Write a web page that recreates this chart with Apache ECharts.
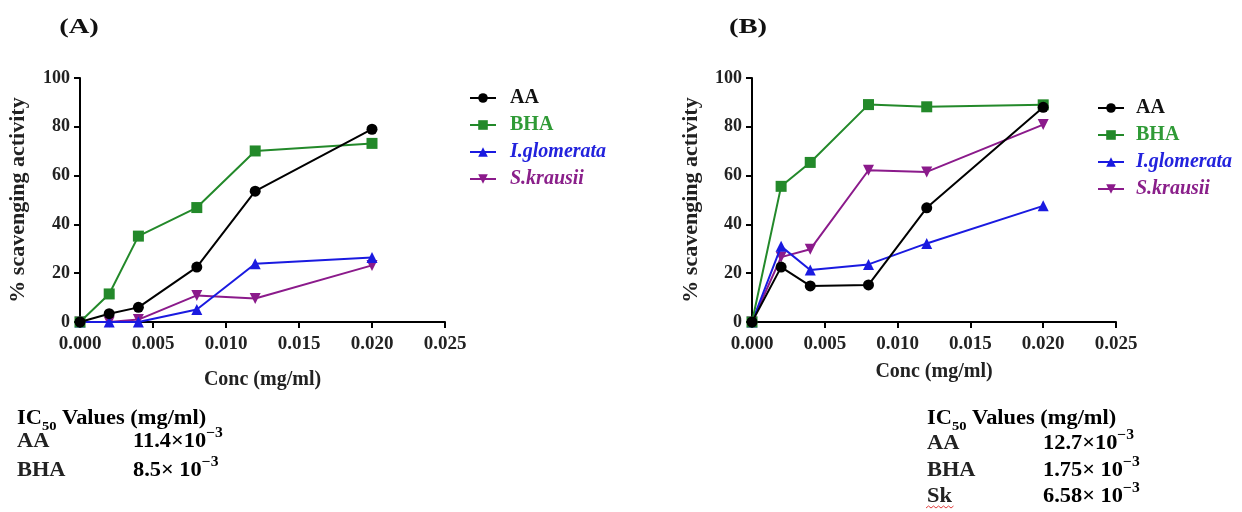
<!DOCTYPE html>
<html>
<head>
<meta charset="utf-8">
<script src="https://cdn.jsdelivr.net/npm/echarts@6/dist/echarts.min.js"></script>
<style>
html,body{margin:0;padding:0;background:#fff;}
#chart{width:1242px;height:512px;}
</style>
</head>
<body>
<div id="chart"></div>
<script>
// ---- data ----
var conc = [0, 0.002, 0.004, 0.008, 0.012, 0.020];
var seriesNames = ['AA', 'BHA', 'I.glomerata', 'S.krausii'];
// Panel A
var A_AA  = [0, 3.4, 6.0, 22.5, 53.6, 79.0];
var A_BHA = [0, 11.5, 35.2, 46.9, 70.1, 73.2];
var A_IG  = [0, 0, 0, 5.1, 23.9, 26.4];
var A_SK  = [0, 0, 1.0, 10.9, 9.6, 23.2];
// Panel B
var B_AA  = [0, 22.5, 14.8, 15.2, 46.8, 88.0];
var B_BHA = [0, 55.6, 65.4, 89.1, 88.2, 89.0];
var B_IG  = [0, 31.0, 21.3, 23.6, 32.2, 47.6];
var B_SK  = [0, 26.6, 29.8, 62.2, 61.5, 80.9];
// axes
var xMin = 0, xMax = 0.025, xStep = 0.005;
var yMin = 0, yMax = 100, yStep = 20;
var panelLabels = ['(A)', '(B)'];
var xTitle = 'Conc (mg/ml)';
var yTitle = '% scavenging activity';
// IC50 tables
var icA_names = ['AA', 'BHA'];
var icA_vals  = ['11.4×10', '8.5× 10'];
var icB_names = ['AA', 'BHA', 'Sk'];
var icB_vals  = ['12.7×10', '1.75× 10', '6.58× 10'];

// ---- styling ----
var FONT = '"Liberation Serif","Times New Roman",serif';
var colors = {'AA':'#000000','BHA':'#23892a','I.glomerata':'#1a1ae0','S.krausii':'#8b1a8b'};
var textColors = {'AA':'#111111','BHA':'#2f9a36','I.glomerata':'#2222dd','S.krausii':'#8a1f8a'};
var symbols = {'AA':'circle','BHA':'rect','I.glomerata':'triangle','S.krausii':'path://M0,0 L10,0 L5,9 Z'};
var sizes = {'AA':11,'BHA':11,'I.glomerata':11,'S.krausii':11};
var zs = {'AA':5,'BHA':4,'I.glomerata':3,'S.krausii':2};

function pairs(ys){ return conc.map(function(x,i){ return [x, ys[i]]; }); }

function makeSeries(name, ys, idx){
  return {
    name: name, type: 'line', xAxisIndex: idx, yAxisIndex: idx,
    data: pairs(ys), symbol: symbols[name], symbolSize: sizes[name],
    z: zs[name],
    lineStyle: {color: colors[name], width: 2},
    itemStyle: {color: colors[name]},
    emphasis: {disabled: true},
    animation: false
  };
}

function xAxis(idx, gap){
  return {
    type: 'value', gridIndex: idx, min: xMin, max: xMax, interval: xStep,
    name: xTitle, nameLocation: 'middle', nameGap: gap,
    nameTextStyle: {fontFamily: FONT, fontWeight: 'bold', fontSize: 20, color: '#222'},
    axisLine: {show: true, onZero: false, lineStyle: {color: '#000', width: 2}},
    axisTick: {show: true, inside: false, length: 6, lineStyle: {color: '#000', width: 2}},
    axisLabel: {fontFamily: FONT, fontWeight: 'bold', fontSize: 19, color: '#222', margin: 13,
      formatter: function(v){ return v.toFixed(3); }},
    splitLine: {show: false}
  };
}
function yAxis(idx, gap){
  return {
    type: 'value', gridIndex: idx, min: yMin, max: yMax, interval: yStep,
    name: yTitle, nameLocation: 'middle', nameGap: gap, nameRotate: 90,
    nameTextStyle: {fontFamily: FONT, fontWeight: 'bold', fontSize: 22, color: '#222'},
    axisLine: {show: true, onZero: false, lineStyle: {color: '#000', width: 2}},
    axisTick: {show: true, inside: false, length: 6, lineStyle: {color: '#000', width: 2}},
    axisLabel: {fontFamily: FONT, fontWeight: 'bold', fontSize: 18, color: '#222', margin: 10},
    splitLine: {show: false}
  };
}
function legend(left, top, pad){
  return {
    left: left, top: top, orient: 'vertical', itemWidth: 26, itemHeight: 12, itemGap: 7,
    selectedMode: false,
    data: seriesNames.map(function(n){
      return {name: n, textStyle: {color: textColors[n], fontStyle: (n==='AA'||n==='BHA') ? 'normal' : 'italic'}};
    }),
    textStyle: {fontFamily: FONT, fontWeight: 'bold', fontSize: 20, lineHeight: 20, padding: [0,0,0,pad]}
  };
}

var rich = {
  b: {fontFamily: FONT, fontWeight: 'bold', fontSize: 20, color: '#222', padding: [0,0,5,0], verticalAlign: 'top'},
  sub: {fontFamily: FONT, fontWeight: 'bold', fontSize: 13, color: '#222', verticalAlign: 'bottom'},
  sup: {fontFamily: FONT, fontWeight: 'bold', fontSize: 14, color: '#222', verticalAlign: 'top'},
  v: {fontFamily: FONT, fontWeight: 'bold', fontSize: 20, color: '#222', padding: [6,0,0,0], verticalAlign: 'bottom'}
};
var SX = 1.12;

function icTable(x, valX, y0, steps, names, vals){
  var els = [];
  els.push({type: 'text', x: x, y: y0 + 2, scaleX: SX, style: {text: '{b|IC}{sub|50}{b| Values (mg/ml)}', rich: rich, verticalAlign: 'middle'}});
  var y = y0;
  names.forEach(function(n, i){
    y += steps[i];
    els.push({type: 'text', x: x, y: y, scaleX: SX, style: {text: n, fontFamily: FONT, fontWeight: 'bold', fontSize: 20, fill: '#222', verticalAlign: 'middle'}});
    els.push({type: 'text', x: valX, y: y - 3, scaleX: SX, style: {text: '{v|' + vals[i] + '}{sup|−3}', rich: rich, verticalAlign: 'middle'}});
  });
  return els;
}

var graphics = [
  {type: 'text', x: 79, y: 27, scaleX: 1.3, originX: 0, style: {text: panelLabels[0], fontFamily: FONT, fontWeight: 'bold', fontSize: 22, fill: '#111', align: 'center', verticalAlign: 'middle'}},
  {type: 'text', x: 748, y: 27, scaleX: 1.3, originX: 0, style: {text: panelLabels[1], fontFamily: FONT, fontWeight: 'bold', fontSize: 22, fill: '#111', align: 'center', verticalAlign: 'middle'}}
].concat(icTable(17, 133, 419, [23, 29], icA_names, icA_vals))
 .concat(icTable(927, 1043, 419, [25, 27, 26], icB_names, icB_vals));

// spell-check wavy underline under "Sk"
graphics.push({type: 'polyline', shape: {points: [[926,508],[928.5,506],[931,508],[933.5,506],[936,508],[938.5,506],[941,508],[943.5,506],[946,508],[948.5,506],[951,508],[953.5,506]]},
  style: {stroke: '#e04040', lineWidth: 1, fill: null}});

var chart = echarts.init(document.getElementById('chart'), null, {renderer: 'canvas'});
chart.setOption({
  backgroundColor: '#fff',
  animation: false,
  grid: [
    {left: 80, top: 78, width: 365, height: 244},
    {left: 752, top: 78, width: 364, height: 244}
  ],
  xAxis: [xAxis(0, 48), xAxis(1, 40)],
  yAxis: [yAxis(0, 51), yAxis(1, 50)],
  legend: [legend(464, 83, 9), legend(1092, 93, 7)],
  series: [
    makeSeries('S.krausii', A_SK, 0), makeSeries('I.glomerata', A_IG, 0), makeSeries('BHA', A_BHA, 0), makeSeries('AA', A_AA, 0),
    makeSeries('S.krausii', B_SK, 1), makeSeries('I.glomerata', B_IG, 1), makeSeries('BHA', B_BHA, 1), makeSeries('AA', B_AA, 1)
  ],
  graphic: graphics
});
</script>
</body>
</html>
